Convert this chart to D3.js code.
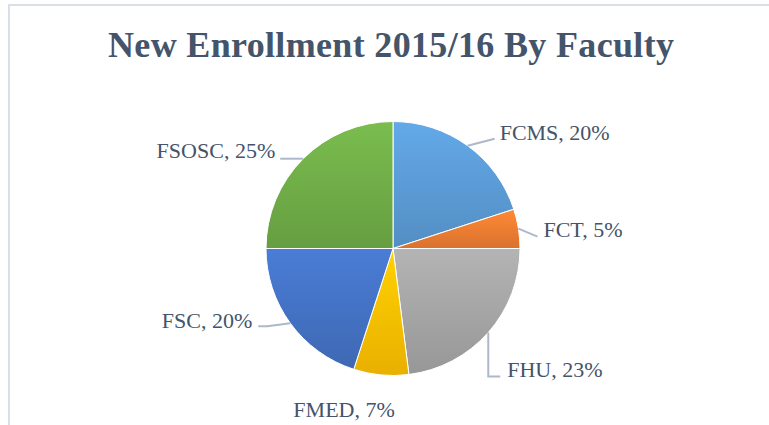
<!DOCTYPE html>
<html>
<head>
<meta charset="utf-8">
<script src="https://cdn.jsdelivr.net/npm/d3@7"></script>
<style>
  body { margin: 0; background: #fff; }
  svg { display: block; }
  text { font-family: "Liberation Serif", "DejaVu Serif", "Times New Roman", Times, serif; }
</style>
</head>
<body>
<svg id="chart" width="769" height="425"></svg>
<script>
const categories = ["FCMS", "FCT", "FHU", "FMED", "FSC", "FSOSC"];
const values = [20, 5, 23, 7, 20, 25];
const colors = ["#5B9BD5", "#ED7D31", "#A5A5A5", "#FFC000", "#4472C4", "#70AD47"];
const title = "New Enrollment 2015/16 By Faculty";

// leader line layout per label: elbow offset from slice edge, tail length, text offset from line end
const labelLayout = [
  { elbow: [27, -7], tail: 0, text: [5, 1], anchor: "start" },
  { elbow: [19, 8], tail: 0, text: [6, 0], anchor: "start" },
  { elbow: [0, 44], tail: 12, text: [7, 1], anchor: "start" },
  { elbow: null, tail: 0, text: [-37, 42], anchor: "middle" },
  { elbow: [-23, 3], tail: -9, text: [-6, 2], anchor: "end" },
  { elbow: [0, 0], tail: -23, text: [-5, -1], anchor: "end" }
];

const W = 769, H = 425;
const cx = 393, cy = 248.5, r = 127;
const textColor = "#44546A";

const svg = d3.select("#chart");

// chart frame
svg.append("rect")
  .attr("x", 9).attr("y", 5)
  .attr("width", W).attr("height", H)
  .attr("fill", "#fff")
  .attr("stroke", "#D9DEE7")
  .attr("stroke-width", 2);

svg.append("text")
  .attr("x", 391).attr("y", 57)
  .attr("text-anchor", "middle")
  .attr("font-weight", "bold")
  .attr("font-size", 36)
  .attr("textLength", 566)
  .attr("lengthAdjust", "spacing")
  .attr("fill", textColor)
  .text(title);

const defs = svg.append("defs");
colors.forEach((c, i) => {
  const g = defs.append("linearGradient")
    .attr("id", "grad" + i)
    .attr("x1", 0).attr("y1", 0).attr("x2", 0).attr("y2", 1);
  g.append("stop").attr("offset", "0%").attr("stop-color", d3.color(c).brighter(0.25));
  g.append("stop").attr("offset", "100%").attr("stop-color", d3.color(c).darker(0.25));
});

const data = categories.map((c, i) => ({ name: c, value: values[i], i }));
const pie = d3.pie().value(d => d.value).sort(null);
const arcs = pie(data);
const arc = d3.arc().innerRadius(0).outerRadius(r);

const g = svg.append("g").attr("transform", `translate(${cx},${cy})`);

g.selectAll("path.slice")
  .data(arcs)
  .join("path")
  .attr("class", "slice")
  .attr("d", arc)
  .attr("fill", d => `url(#grad${d.data.i})`)
  .attr("stroke", "#fff")
  .attr("stroke-width", 1);

// labels
arcs.forEach((d, i) => {
  const mid = (d.startAngle + d.endAngle) / 2;
  const ex = r * Math.sin(mid), ey = -r * Math.cos(mid);
  const L = labelLayout[i];
  let endX = ex, endY = ey;
  if (L.elbow) {
    const bx = ex + L.elbow[0], by = ey + L.elbow[1];
    const pts = [[ex, ey], [bx, by], [bx + L.tail, by]];
    g.append("path")
      .attr("d", d3.line()(pts))
      .attr("fill", "none")
      .attr("stroke", "#ADB9CA")
      .attr("stroke-width", 2);
    endX = bx + L.tail; endY = by;
  }
  g.append("text")
    .attr("x", endX + L.text[0])
    .attr("y", endY + L.text[1])
    .attr("text-anchor", L.anchor)
    .attr("font-size", 22)
    .attr("fill", textColor)
    .text(`${d.data.name}, ${d.data.value}%`);
});
</script>
</body>
</html>
